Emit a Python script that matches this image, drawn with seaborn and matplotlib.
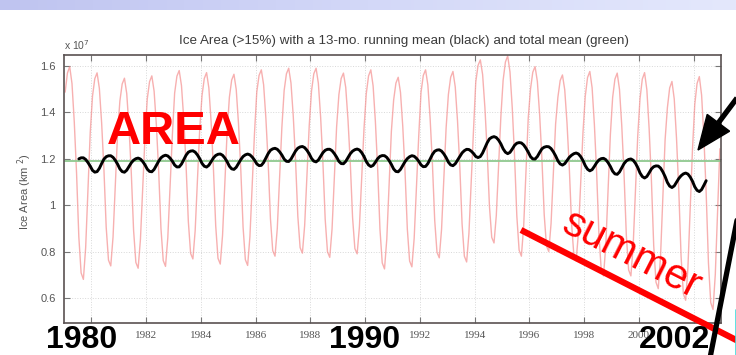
import numpy as np
import pandas as pd
import matplotlib
matplotlib.use("Agg")
import matplotlib.pyplot as plt
from matplotlib.patches import Polygon
import seaborn as sns

# Monthly sea-ice area (x 10^7 km^2), one list per calendar month, years 1979-2002
years = list(range(1979, 2003))
jan = [1.487, 1.470, 1.449, 1.458, 1.483, 1.472, 1.465, 1.487, 1.494, 1.492, 1.476, 1.480,
       1.453, 1.486, 1.477, 1.531, 1.539, 1.501, 1.465, 1.470, 1.464, 1.459, 1.420, 1.434]
feb = [1.569, 1.545, 1.522, 1.532, 1.556, 1.546, 1.539, 1.559, 1.566, 1.566, 1.546, 1.557,
       1.526, 1.559, 1.551, 1.602, 1.617, 1.573, 1.537, 1.550, 1.543, 1.543, 1.505, 1.524]
mar = [1.597, 1.570, 1.547, 1.557, 1.580, 1.571, 1.564, 1.583, 1.590, 1.590, 1.569, 1.583,
       1.551, 1.583, 1.576, 1.626, 1.643, 1.597, 1.561, 1.576, 1.569, 1.571, 1.533, 1.554]
apr = [1.524, 1.503, 1.481, 1.491, 1.515, 1.505, 1.498, 1.519, 1.526, 1.525, 1.507, 1.514,
       1.486, 1.518, 1.510, 1.563, 1.574, 1.533, 1.497, 1.506, 1.499, 1.497, 1.458, 1.474]
may = [1.359, 1.354, 1.334, 1.344, 1.369, 1.357, 1.350, 1.374, 1.383, 1.378, 1.366, 1.360,
       1.339, 1.372, 1.363, 1.421, 1.419, 1.390, 1.353, 1.347, 1.342, 1.329, 1.288, 1.293]
jun = [1.139, 1.154, 1.138, 1.147, 1.174, 1.159, 1.152, 1.182, 1.192, 1.183, 1.180, 1.154,
       1.143, 1.178, 1.166, 1.232, 1.212, 1.199, 1.161, 1.136, 1.132, 1.106, 1.062, 1.052]
jul = [0.863, 0.904, 0.892, 0.900, 0.930, 0.911, 0.905, 0.941, 0.952, 0.938, 0.946, 0.897,
       0.897, 0.935, 0.919, 0.995, 0.953, 0.959, 0.920, 0.871, 0.870, 0.826, 0.779, 0.751]
aug = [0.708, 0.763, 0.753, 0.761, 0.792, 0.771, 0.765, 0.804, 0.817, 0.799, 0.813, 0.751,
       0.759, 0.797, 0.780, 0.861, 0.806, 0.824, 0.784, 0.721, 0.721, 0.668, 0.618, 0.580]
sep = [0.680, 0.738, 0.728, 0.736, 0.768, 0.746, 0.740, 0.780, 0.793, 0.775, 0.790, 0.725,
       0.734, 0.773, 0.755, 0.837, 0.780, 0.800, 0.760, 0.695, 0.695, 0.640, 0.590, 0.550]
oct_ = [0.818, 0.863, 0.851, 0.859, 0.890, 0.870, 0.864, 0.900, 0.913, 0.897, 0.907, 0.854,
        0.857, 0.895, 0.878, 0.955, 0.909, 0.920, 0.880, 0.827, 0.826, 0.780, 0.731, 0.701]
nov = [1.065, 1.087, 1.072, 1.081, 1.109, 1.093, 1.086, 1.117, 1.128, 1.117, 1.117, 1.085,
       1.077, 1.113, 1.100, 1.168, 1.142, 1.135, 1.096, 1.065, 1.062, 1.031, 0.986, 0.972]
dec = [1.313, 1.312, 1.293, 1.302, 1.328, 1.315, 1.309, 1.334, 1.343, 1.337, 1.328, 1.317,
       1.298, 1.332, 1.321, 1.381, 1.375, 1.350, 1.313, 1.303, 1.298, 1.282, 1.241, 1.243]

xtick_years = list(range(1980, 2003, 2))
big_years = ["1980", "1990", "2002"]
ytick_vals = [0.6, 0.8, 1.0, 1.2, 1.4, 1.6]
ytick_labels = ["0.6", "0.8", "1", "1.2", "1.4", "1.6"]
title = "Ice Area (>15%) with a 13-mo. running mean (black) and total mean (green)"

# Long table: one row per month, in time order
months = [jan, feb, mar, apr, may, jun, jul, aug, sep, oct_, nov, dec]
rows = []
for yi, yr in enumerate(years):
    for mi, col in enumerate(months):
        rows.append({"time": yr + (mi + 0.5) / 12.0, "area": col[yi]})
df = pd.DataFrame(rows)
df["running"] = df["area"].rolling(13, center=True).mean()
total_mean = df["area"].mean()

sns.set_style("ticks")
plt.rcParams["font.family"] = ["Liberation Sans", "DejaVu Sans"]

W, H = 736, 355
fig = plt.figure(figsize=(W / 100, H / 100), dpi=100)
fig.patch.set_facecolor("white")

ax = fig.add_axes([64 / W, 1 - 323 / H, 657 / W, 268 / H])
ax.grid(True, ls=":", color="#d8d8d8", lw=0.7)
ax.axhline(total_mean, color="#8fc88f", lw=1.3, zorder=2)
sns.lineplot(data=df, x="time", y="area", ax=ax, color="#f38686", lw=1.0,
             alpha=0.65, estimator=None, zorder=1)
sns.lineplot(data=df.dropna(), x="time", y="running", ax=ax, color="black",
             lw=2.1, estimator=None, zorder=3)
ax.set_xlim(1979, 2003)
ax.set_ylim(0.492, 1.647)
ax.set_xticks(xtick_years)
# the decade years carry large bold labels below the axis instead
ax.set_xticklabels(["" if str(y) in big_years else str(y) for y in xtick_years],
                   family="Liberation Serif")
ax.set_yticks(ytick_vals)
ax.set_yticklabels(ytick_labels)
ax.set_xlabel("")
ax.set_ylabel("")
ax.tick_params(direction="in", top=True, right=True, length=4, width=0.8,
               color="#777777", labelcolor="#555555", labelsize=8, pad=6)
for s in ax.spines.values():
    s.set_color("#5a5252")
    s.set_linewidth(1.2)

# Overlay in pixel coordinates for headings and slide annotations
ov = fig.add_axes([0, 0, 1, 1], zorder=10)
ov.set_xlim(0, W)
ov.set_ylim(H, 0)
ov.axis("off")
ov.patch.set_alpha(0)

grad = np.linspace(0, 1, 256)[None, :]
ov.imshow(grad, extent=[0, W, 10, 0], aspect="auto",
          cmap=matplotlib.colors.LinearSegmentedColormap.from_list(
              "band", ["#bfc4f0", "#d3d8f8", "#e4e8fc"]), zorder=0)

ov.text(404, 41, title, ha="center", va="center", fontsize=9.6, color="#3a3a3a")
ov.text(64, 45, r"x 10$^{7}$", ha="left", va="center", fontsize=7.5, color="#555555")
ov.text(25, 192, "Ice Area (km $^{2}$)", rotation=90, ha="center", va="center",
        fontsize=8, color="#555555")

ov.text(107, 143.5, "AREA", ha="left", va="baseline", fontsize=34,
        fontweight="bold", color="#ff0000")

for label, cx in zip(big_years, [82, 365, 674]):
    ov.text(cx, 348, label, ha="center", va="baseline", fontsize=23,
            fontweight="bold", color="black")

# summer trend line and label
ov.plot([521, 742], [230, 343], color="#ff0000", lw=4.5, solid_capstyle="butt")
ov.text(632, 255, "summer", rotation=-27, rotation_mode="anchor", ha="center",
        va="center", fontsize=30, color="#ff0000")

# black arrow pointing at the running mean
tip = np.array([698.0, 150.0])
d = np.array([0.6, -0.8])
d = d / np.linalg.norm(d)
p = np.array([-d[1], d[0]])
base = tip + d * 34
ov.add_patch(Polygon([tip, base + p * 14, base - p * 14], closed=True,
                     color="black", zorder=5))
end = base + d * 90
ov.plot([base[0], end[0]], [base[1], end[1]], color="black", lw=3.8,
        solid_capstyle="butt", zorder=5)
ov.plot([710, 741], [358, 200], color="black", lw=3.8, zorder=5)
ov.plot([735.5, 735.5], [310, 355], color="#40dede", lw=1.2, zorder=4)

fig.savefig("out.png", dpi=100)
